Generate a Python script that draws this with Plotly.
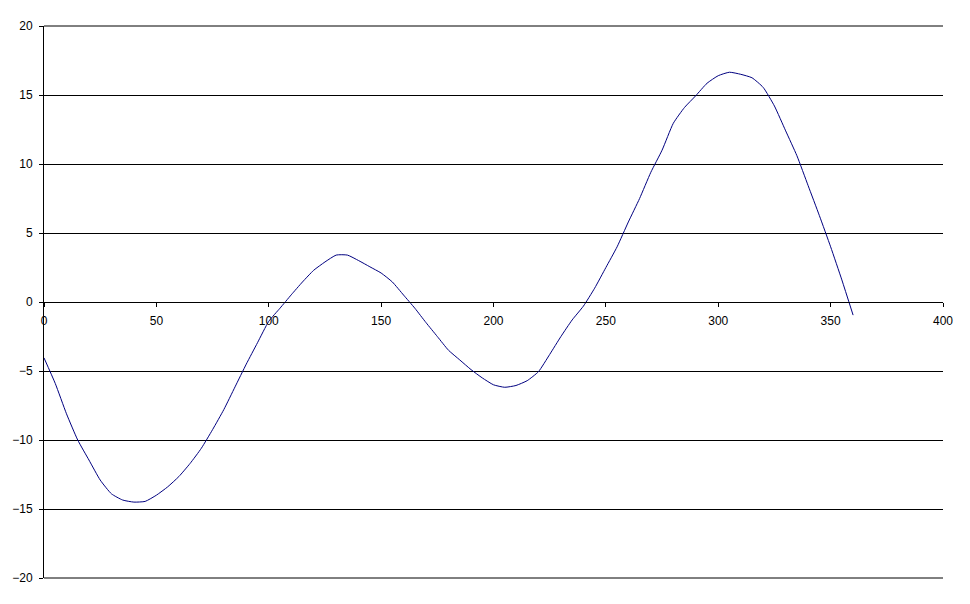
import plotly.graph_objects as go

# angle values (degrees) and the curve
x_deg = [0, 5, 10, 15, 20, 25, 30, 35, 40, 45, 50, 55, 60, 65, 70, 75, 80, 85, 90,
         95, 100, 105, 110, 115, 120, 125, 130, 135, 140, 145, 150, 155, 160, 165,
         170, 175, 180, 185, 190, 195, 200, 205, 210, 215, 220, 225, 230, 235, 240,
         245, 250, 255, 260, 265, 270, 275, 280, 285, 290, 295, 300, 305, 310, 315,
         320, 325, 330, 335, 340, 345, 350, 355, 360]
y_val = [-4.05, -5.9, -8.1, -10.0, -11.45, -12.9, -13.9, -14.35, -14.5, -14.45,
         -14.0, -13.4, -12.65, -11.7, -10.6, -9.25, -7.8, -6.15, -4.5,
         -2.95, -1.4, -0.45, 0.52, 1.45, 2.3, 2.9, 3.4, 3.4, 3.0, 2.55, 2.1, 1.45,
         0.5, -0.45, -1.5, -2.5, -3.5, -4.2, -4.9, -5.5, -6.0, -6.18, -6.05, -5.7,
         -5.05, -3.8, -2.5, -1.3, -0.3, 1.0, 2.5, 4.0, 5.8, 7.5, 9.4, 11.0, 12.95,
         14.1, 14.95, 15.85, 16.4, 16.65, 16.5, 16.25, 15.55, 14.2, 12.4, 10.6, 8.43,
         6.26, 4.0, 1.6, -0.95]

x_ticks = [0, 50, 100, 150, 200, 250, 300, 350, 400]
y_ticks = [-20, -15, -10, -5, 0, 5, 10, 15, 20]

fig = go.Figure()

fig.add_trace(go.Scatter(
    x=x_deg,
    y=y_val,
    mode='lines',
    line=dict(color='#000080', width=1, shape='spline', smoothing=0.5),
    showlegend=False
))

# top and bottom gridlines (plotly drops the ones on the range edges)
for yy in (0, 1):
    fig.add_shape(type='line', xref='paper', yref='paper',
                  x0=0, x1=1, y0=yy, y1=yy,
                  line=dict(color='black', width=1))

fig.update_layout(
    width=970,
    height=604,
    margin=dict(l=36, r=35, t=18, b=34, autoexpand=False),
    paper_bgcolor='white',
    plot_bgcolor='white',
    font=dict(family='Liberation Sans, Arial', size=12, color='black'),
    xaxis=dict(
        range=[0, 400],
        tickvals=x_ticks,
        showgrid=False,
        zeroline=False,
        showline=True,
        linecolor='black',
        linewidth=1,
        ticks='outside',
        ticklen=4,
        tickcolor='black',
        ticklabelstandoff=4,
        anchor='free',
        position=0.5,
        automargin=False
    ),
    yaxis=dict(
        range=[-20, 20],
        tickvals=y_ticks,
        showgrid=True,
        gridcolor='black',
        gridwidth=1,
        zeroline=False,
        showline=True,
        linecolor='black',
        linewidth=1,
        ticks='outside',
        ticklen=4,
        tickcolor='black',
        ticklabelstandoff=4,
        automargin=False
    )
)

fig.write_html("out.html")
